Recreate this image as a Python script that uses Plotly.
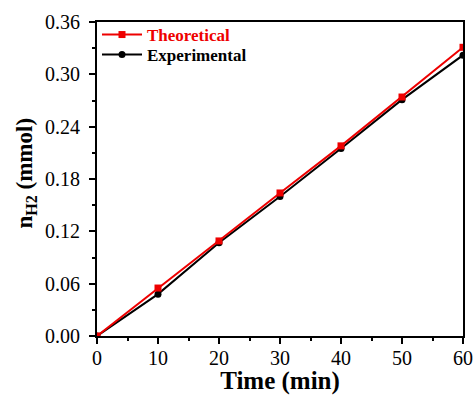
import plotly.graph_objects as go

time_min = [0, 10, 20, 30, 40, 50, 60]
theoretical = [0.0, 0.055, 0.109, 0.164, 0.218, 0.274, 0.331]
experimental = [0.0, 0.048, 0.107, 0.160, 0.215, 0.271, 0.322]

x_ticks = [0, 10, 20, 30, 40, 50, 60]
y_ticks = [0.00, 0.06, 0.12, 0.18, 0.24, 0.30, 0.36]

FONT = "Liberation Serif, Times New Roman, serif"
RED = "#ee0000"

fig = go.Figure()
fig.add_trace(go.Scatter(
    x=time_min, y=experimental, mode="lines+markers",
    name="<b>Experimental</b>",
    line=dict(color="black", width=2),
    marker=dict(symbol="circle", size=7, color="black"),
    legend="legend2",
))
fig.add_trace(go.Scatter(
    x=time_min, y=theoretical, mode="lines+markers",
    name="<b>Theoretical</b>",
    line=dict(color=RED, width=2),
    marker=dict(symbol="square", size=7, color=RED),
    legend="legend",
))

axis_common = dict(
    showline=True, linecolor="black", linewidth=2, mirror=True,
    ticks="outside", ticklen=6, tickwidth=2, tickcolor="black",
    showgrid=False, zeroline=False, automargin=False,
    tickfont=dict(family=FONT, size=20, color="black"),
)

fig.update_xaxes(
    range=[0, 60], tickvals=x_ticks, ticktext=[str(v) for v in x_ticks],
    minor=dict(ticks="outside", ticklen=3, tickwidth=2, tickcolor="black", dtick=5, tick0=0),
    ticklabelstandoff=-3,
    title=dict(text="<b>Time (min)</b>", font=dict(family=FONT, size=25, color="black"), standoff=2),
    **axis_common,
)
fig.update_yaxes(
    range=[0, 0.36], tickvals=y_ticks, ticktext=[f"{v:.2f}" for v in y_ticks],
    minor=dict(ticks="outside", ticklen=3, tickwidth=2, tickcolor="black", dtick=0.03, tick0=0),
    ticklabelstandoff=5,
    title=dict(text="&nbsp;&nbsp;<b>n<sub>H2</sub> (mmol)</b>", font=dict(family=FONT, size=23, color="black"), standoff=6),
    **axis_common,
)

legend_common = dict(
    xanchor="left", yanchor="middle", x=0.0,
    bgcolor="rgba(0,0,0,0)", itemwidth=40,
)

fig.update_layout(
    width=473, height=395,
    margin=dict(l=97, r=10, t=22, b=59),
    paper_bgcolor="white", plot_bgcolor="white",
    font=dict(family=FONT, color="black"),
    showlegend=True,
    hovermode=False,
    legend=dict(y=0.9586, font=dict(family=FONT, size=17, color=RED), **legend_common),
    legend2=dict(y=0.895, font=dict(family=FONT, size=17, color="black"), **legend_common),
)

fig.write_html(
    "out.html",
    config={"displayModeBar": False},
    post_script="document.body.style.margin='0';document.body.style.padding='0';",
)
